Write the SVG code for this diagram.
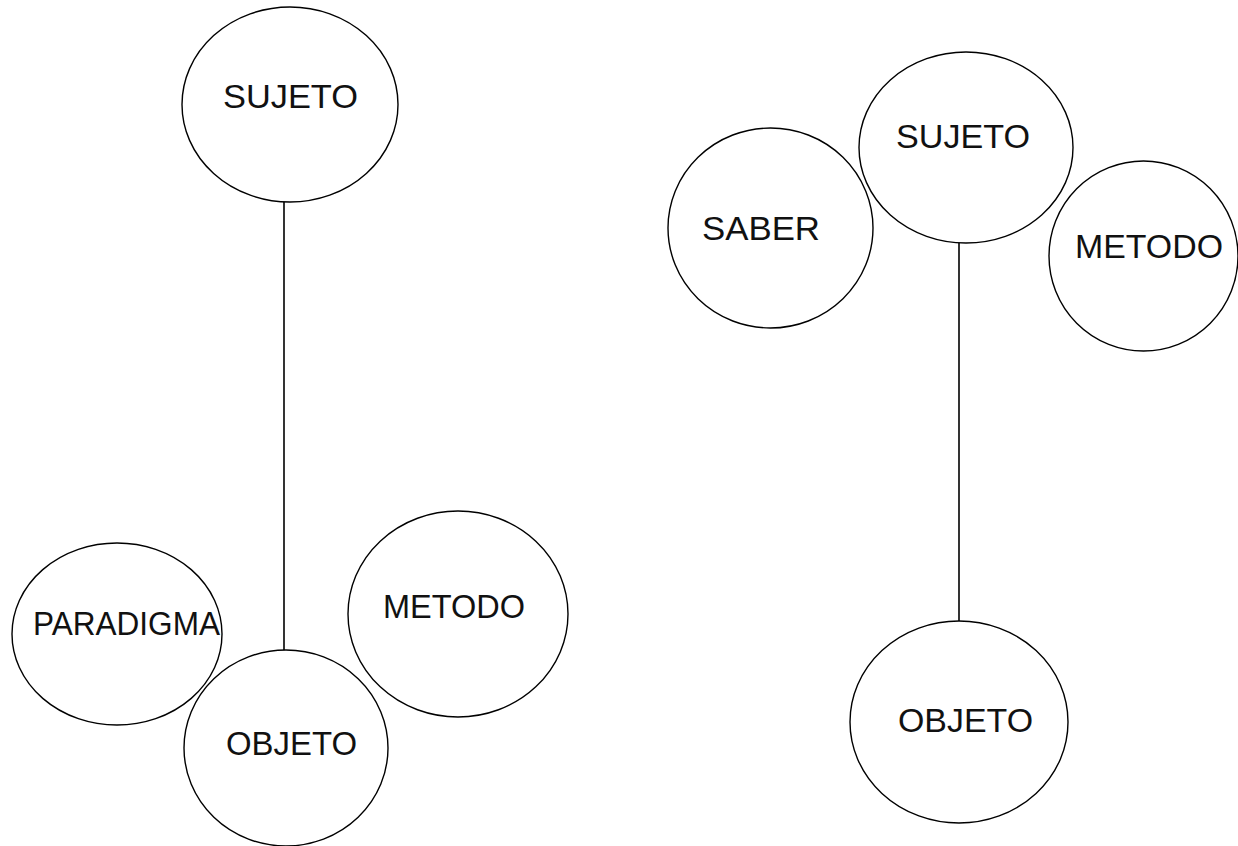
<svg xmlns="http://www.w3.org/2000/svg" width="1238" height="846" viewBox="0 0 1238 846">
<style>
.n{fill:none;stroke:#000;stroke-width:1.4}
.t{font-family:"Liberation Sans",Arial,sans-serif;font-size:33px;fill:#111;text-anchor:middle}
.c{stroke:#000;stroke-width:1.6;fill:none}
</style>
<rect width="1238" height="846" fill="#fff"/>
<g id="connectors">
<line class="c" x1="284" y1="202" x2="284" y2="650"/>
<line class="c" x1="959" y1="243" x2="959" y2="621"/>
</g>
<g id="left-sujeto"><ellipse class="n" cx="290" cy="104.5" rx="108" ry="97.5"/><text class="t" x="290.5" y="108" textLength="135" lengthAdjust="spacingAndGlyphs">SUJETO</text></g>
<g id="paradigma"><ellipse class="n" cx="117" cy="634" rx="105" ry="91"/><text class="t" x="126.5" y="635" textLength="187" lengthAdjust="spacingAndGlyphs">PARADIGMA</text></g>
<g id="left-objeto"><ellipse class="n" cx="286" cy="748" rx="102" ry="98"/><text class="t" x="291.5" y="755" textLength="131" lengthAdjust="spacingAndGlyphs">OBJETO</text></g>
<g id="left-metodo"><ellipse class="n" cx="458" cy="614" rx="110" ry="103"/><text class="t" x="454" y="618" textLength="142" lengthAdjust="spacingAndGlyphs">METODO</text></g>
<g id="right-sujeto"><ellipse class="n" cx="966" cy="147.5" rx="107" ry="95.5"/><text class="t" x="963" y="148" textLength="134" lengthAdjust="spacingAndGlyphs">SUJETO</text></g>
<g id="saber"><ellipse class="n" cx="770.5" cy="228" rx="102.5" ry="100"/><text class="t" x="761" y="240" textLength="118" lengthAdjust="spacingAndGlyphs">SABER</text></g>
<g id="right-metodo"><ellipse class="n" cx="1143.5" cy="256" rx="94.5" ry="95"/><text class="t" x="1149" y="258" textLength="148" lengthAdjust="spacingAndGlyphs">METODO</text></g>
<g id="right-objeto"><ellipse class="n" cx="959" cy="722" rx="109" ry="101"/><text class="t" x="965.5" y="732" textLength="135" lengthAdjust="spacingAndGlyphs">OBJETO</text></g>
</svg>
